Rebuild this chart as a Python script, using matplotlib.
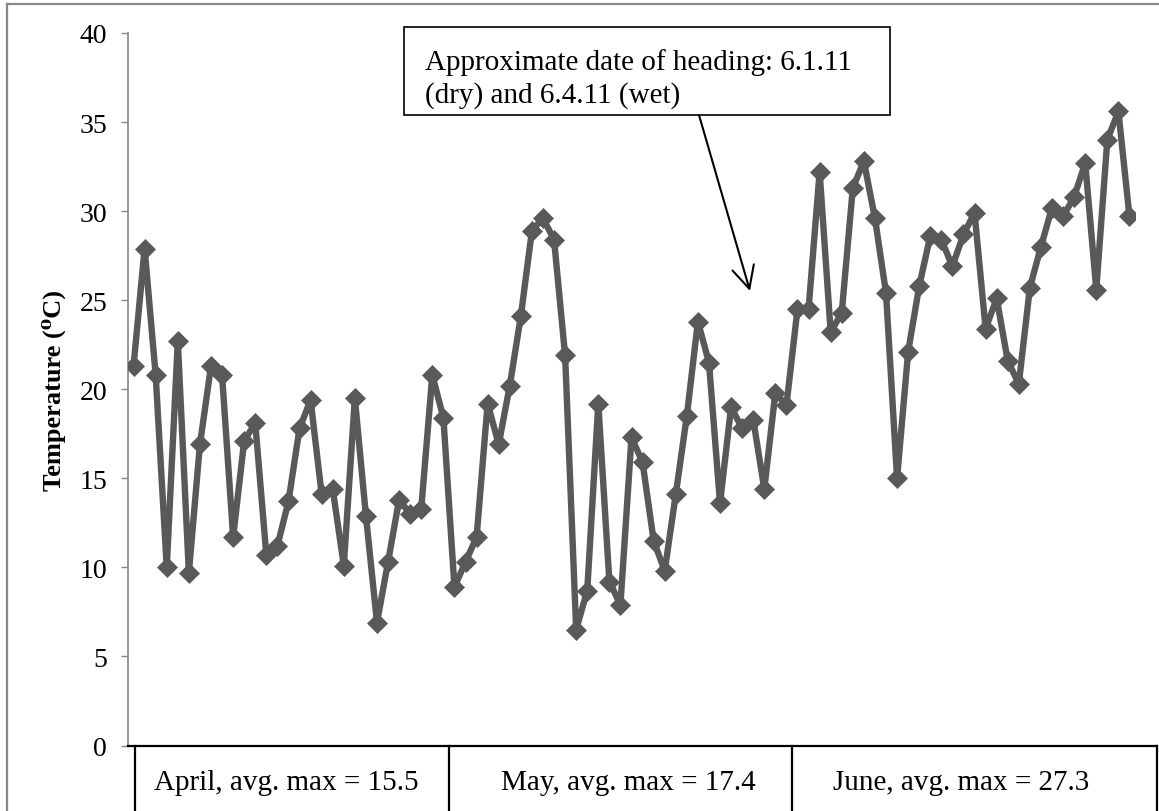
import matplotlib.pyplot as plt
from matplotlib.lines import Line2D
from matplotlib.patches import Rectangle

# daily maximum temperature, 1 April - 30 June
april = [21.3, 27.9, 20.8, 10.0, 22.7, 9.7, 16.9, 21.3, 20.8, 11.7,
         17.1, 18.1, 10.7, 11.2, 13.7, 17.8, 19.4, 14.1, 14.4, 10.1,
         19.5, 12.9, 6.9, 10.3, 13.8, 13.0, 13.3, 20.8, 18.4, 8.9]
may = [10.3, 11.7, 19.2, 16.9, 20.2, 24.1, 28.9, 29.6, 28.4, 21.9,
       6.5, 8.7, 19.2, 9.2, 7.9, 17.3, 15.9, 11.5, 9.8, 14.1,
       18.5, 23.8, 21.5, 13.6, 19.0, 17.8, 18.3, 14.4, 19.8, 19.1, 24.5]
june = [24.5, 32.2, 23.2, 24.3, 31.3, 32.8, 29.6, 25.4, 15.0, 22.1,
        25.8, 28.6, 28.4, 26.9, 28.7, 29.9, 23.4, 25.1, 21.6, 20.3,
        25.7, 28.0, 30.2, 29.7, 30.8, 32.7, 25.6, 34.0, 35.6, 29.7]

month_labels = ["April, avg. max = 15.5", "May, avg. max = 17.4", "June, avg. max = 27.3"]
yticks = [0, 5, 10, 15, 20, 25, 30, 35, 40]
note = "Approximate date of heading: 6.1.11\n(dry) and 6.4.11 (wet)"

temps = april + may + june
days = list(range(len(temps)))

serif = ["Liberation Serif", "DejaVu Serif"]
plt.rcParams["font.family"] = serif

W, H = 1159, 812
fig = plt.figure(figsize=(W / 100, H / 100), dpi=100)


def fx(px):
    return px / W


def fy(py):
    return 1 - py / H


left, right, top, bottom = 128, 1135, 34, 746.5
ax = fig.add_axes([fx(left), fy(bottom), fx(right - left), (bottom - top) / H])

ax.plot(days, temps, color="#595959", lw=4.6, marker="D", ms=10.5,
        mfc="#595959", mec="#595959", mew=0.5, zorder=3)

ax.set_xlim(-0.5, len(temps) - 0.5)
ax.set_ylim(0, 40)
ax.set_xticks([])
ax.set_yticks(yticks)
ax.set_yticklabels([str(t) for t in yticks], fontsize=20)
ax.tick_params(axis="y", direction="out", length=5, width=1, color="#868686", pad=10)
for s in ["top", "right", "bottom"]:
    ax.spines[s].set_visible(False)
ax.spines["left"].set_color("#868686")
ax.spines["left"].set_linewidth(1.2)
ax.patch.set_visible(False)

ax.set_ylabel("Temperature (\u2070C)", fontsize=19, fontweight="bold", family=serif)
ax.yaxis.set_label_coords((66 - left) / (right - left), 0.5)

# outer chart border
for xs, ys in [([7, W], [5, 5]), ([7, 7], [5, H])]:
    fig.add_artist(Line2D([fx(x) for x in xs], [fy(y) for y in ys],
                          color="#888888", lw=1.6))

# month table under the axis
fig.add_artist(Line2D([fx(128), fx(1157)], [fy(747), fy(747)], color="black", lw=1.6))
for x in [135, 449, 792, 1157]:
    fig.add_artist(Line2D([fx(x), fx(x)], [fy(747), fy(H)], color="black", lw=1.6))
for cx, lab in zip([286, 628, 961], month_labels):
    fig.text(fx(cx), fy(783), lab, ha="center", va="center", fontsize=21)

# heading note with arrow
fig.add_artist(Rectangle((fx(404), fy(116)), fx(890 - 404), (116 - 28) / H,
                         transform=fig.transFigure, fill=True, facecolor="white",
                         edgecolor="black", lw=1.2, zorder=4))
fig.text(fx(425), fy(49), note, ha="left", va="top", fontsize=21,
         linespacing=1.28, zorder=5)
ax.annotate("", xy=(750, H - 292), xytext=(699, H - 116),
            xycoords="figure pixels", textcoords="figure pixels",
            arrowprops=dict(arrowstyle="->", lw=1.5, color="black",
                            mutation_scale=40, shrinkA=0, shrinkB=0))

fig.savefig("out.png", dpi=100)
